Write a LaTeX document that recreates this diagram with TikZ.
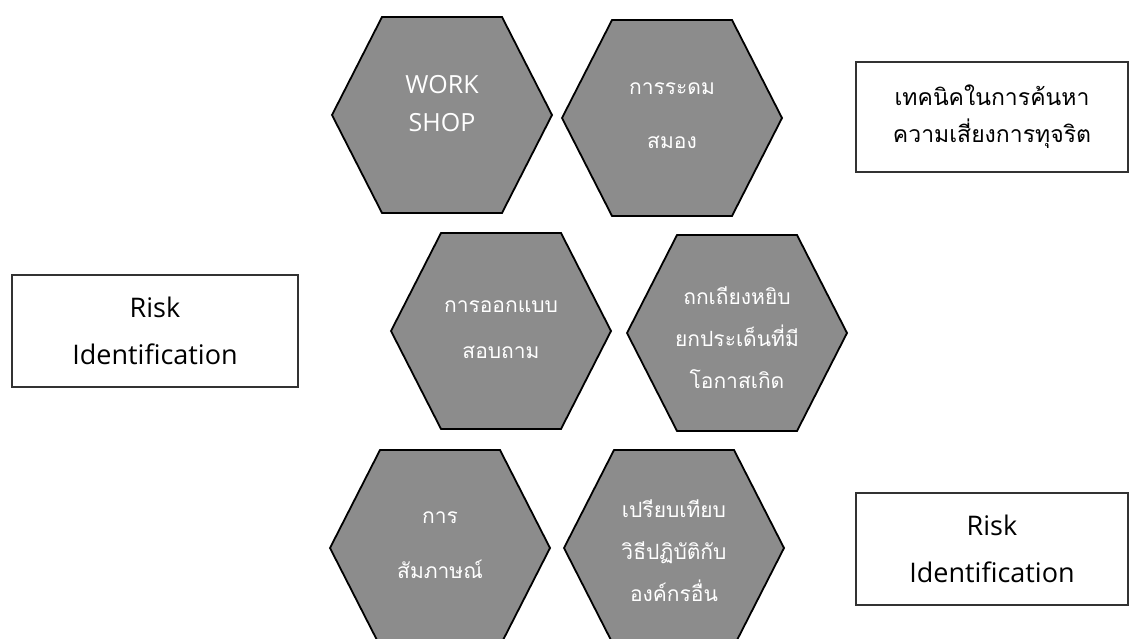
\documentclass[tikz,border=0pt]{standalone}
\usepackage{fontspec}
\setmainfont{Open Sans}
\newfontfamily\thaifont[Script=Thai]{Loma}
\definecolor{hexfill}{RGB}{140,140,140}
\definecolor{boxline}{RGB}{50,50,50}
\tikzset{
  hexshape/.style={draw=black, fill=hexfill, line width=1.8pt, line join=miter},
  hextext/.style={text=white, align=center, inner sep=0pt},
  thaihex/.style={hextext, font=\thaifont\fontsize{21}{#1}\selectfont},
  infobox/.style={draw=boxline, line width=1.6pt, fill=white, align=center, inner sep=0pt},
}
\newcommand{\hexat}[3]{%
  \draw[hexshape] ({#1-110},{#2}) -- ({#1-60},{#2-98}) -- ({#1+60},{#2-98})
    -- ({#1+110},{#2}) -- ({#1+60},{#2+98}) -- ({#1-60},{#2+98}) -- cycle;
  \coordinate (#3) at (#1,#2);}
\begin{document}
\begin{tikzpicture}[x=1pt,y=-1pt]
\useasboundingbox (0,0) rectangle (1131,639);
\begin{scope}
\clip (0,0) rectangle (1131,639);
\hexat{442}{115}{h1}
\hexat{672}{118}{h2}
\hexat{501}{331}{h3}
\hexat{737}{333}{h4}
\hexat{440}{548}{h5}
\hexat{674}{548}{h6}
\end{scope}

\node[hextext, font=\fontsize{25}{38}\selectfont] (t1) at (442,104) {WORK\\SHOP};
\node[thaihex=54] (t2) at (672,116) {การระดม\\สมอง};
\node[thaihex=46] (t3) at (501,330) {การออกแบบ\\สอบถาม};
\node[thaihex=42] (t4) at (737,338) {ถกเถียงหยิบ\\ยกประเด็นที่มี\\โอกาสเกิด};
\node[thaihex=55] (t5) at (440,545) {การ\\สัมภาษณ์};
\node[thaihex=42] (t6) at (674,551) {เปรียบเทียบ\\วิธีปฏิบัติกับ\\องค์กรอื่น};

\node[infobox, minimum width=272pt, minimum height=110pt,
      font=\thaifont\fontsize{23}{37}\selectfont] (b1) at (992,117)
      {เทคนิคในการค้นหา\\ความเสี่ยงการทุจริต};
\node[infobox, minimum width=286pt, minimum height=112pt,
      font=\fontsize{27}{47}\selectfont] (b2) at (155,331)
      {Risk\\Identification};
\node[infobox, minimum width=272pt, minimum height=112pt,
      font=\fontsize{27}{47}\selectfont] (b3) at (992,549)
      {Risk\\Identification};
\end{tikzpicture}
\end{document}
